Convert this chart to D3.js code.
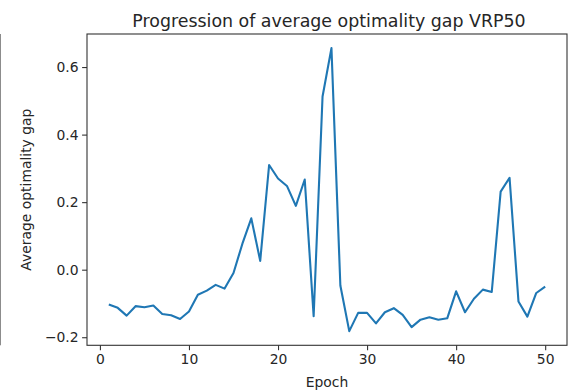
<!DOCTYPE html>
<html>
<head>
<meta charset="utf-8">
<script src="https://cdn.jsdelivr.net/npm/d3@7"></script>
<style>
  body { margin: 0; background: #fff; }
  text { font-family: "DejaVu Sans", sans-serif; fill: #262626; }
</style>
</head>
<body>
<div id="chart"></div>
<script>
  // data
  var epochs = [];
  for (var i = 1; i <= 50; i++) epochs.push(i);

  var gaps = [
    -0.103, -0.113, -0.136, -0.108, -0.111, -0.106, -0.131, -0.135, -0.146, -0.124,
    -0.074, -0.062, -0.045, -0.056, -0.010, 0.077, 0.152, 0.026, 0.310, 0.270,
    0.248, 0.189, 0.267, -0.138, 0.513, 0.656, -0.047, -0.182, -0.128, -0.128,
    -0.159, -0.126, -0.114, -0.134, -0.170, -0.148, -0.141, -0.148, -0.144, -0.064,
    -0.126, -0.086, -0.059, -0.066, 0.231, 0.272, -0.094, -0.139, -0.069, -0.050
  ];

  var xTicks = [0, 10, 20, 30, 40, 50];
  var yTicks = [-0.2, 0.0, 0.2, 0.4, 0.6];

  var titleText = "Progression of average optimality gap VRP50";
  var xLabel = "Epoch";
  var yLabel = "Average optimality gap";

  const width = 570;
  const height = 391;
  var plot = { left: 87, right: 567, top: 34, bottom: 345.3 };

  var svg = d3.select("#chart")
      .append("svg")
      .attr("width", width)
      .attr("height", height);

  /* matplotlib style 5% margins */
  var xMin = d3.min(epochs), xMax = d3.max(epochs);
  var yMin = d3.min(gaps), yMax = d3.max(gaps);
  var xPad = (xMax - xMin) * 0.05, yPad = (yMax - yMin) * 0.05;

  var x = d3.scaleLinear()
      .domain([xMin - xPad, xMax + xPad])
      .range([plot.left, plot.right]);

  var y = d3.scaleLinear()
      .domain([yMin - yPad, yMax + yPad])
      .range([plot.bottom, plot.top]);

  // notebook cell border on the far left
  svg.append("line")
      .attr("x1", 0.5).attr("x2", 0.5)
      .attr("y1", plot.top).attr("y2", plot.bottom)
      .style("stroke", "#8c8c8c")
      .style("stroke-width", 1);

  /* axes */
  var xAxis = svg.append("g")
      .attr("transform", "translate(0," + plot.bottom + ")")
      .call(d3.axisBottom(x).tickValues(xTicks).tickFormat(d3.format("d"))
            .tickSize(4.9).tickPadding(3.5));

  var yAxis = svg.append("g")
      .attr("transform", "translate(" + plot.left + ",0)")
      .call(d3.axisLeft(y).tickValues(yTicks)
            .tickFormat(function(d) { return d3.format(".1f")(d).replace("-", "\u2212"); })
            .tickSize(4.9).tickPadding(3.5));

  [xAxis, yAxis].forEach(function(g) {
    g.select(".domain").remove();
    g.selectAll(".tick line").style("stroke", "#333").style("stroke-width", 1.1);
    g.selectAll(".tick text")
      .style("font-size", "13.9px")
      .style("fill", "#262626");
  });

  /* line */
  var line = d3.line()
      .x(function(d, i) { return x(epochs[i]); })
      .y(function(d) { return y(d); });

  svg.append("path")
      .datum(gaps)
      .attr("d", line)
      .style("fill", "none")
      .style("stroke", "#1f77b4")
      .style("stroke-width", 2.1)
      .style("stroke-linejoin", "round");

  /* frame */
  svg.append("rect")
      .attr("x", plot.left)
      .attr("y", plot.top)
      .attr("width", plot.right - plot.left)
      .attr("height", plot.bottom - plot.top)
      .style("fill", "none")
      .style("stroke", "#333")
      .style("stroke-width", 1.1);

  /* texts */
  svg.append("text")
      .attr("x", (plot.left + plot.right) / 2 + 2)
      .attr("y", 27.3)
      .attr("text-anchor", "middle")
      .style("font-size", "17.4px")
      .text(titleText);

  svg.append("text")
      .attr("x", (plot.left + plot.right) / 2)
      .attr("y", 387)
      .attr("text-anchor", "middle")
      .style("font-size", "13.9px")
      .text(xLabel);

  svg.append("text")
      .attr("transform", "translate(31," + (plot.top + plot.bottom) / 2 + ") rotate(-90)")
      .attr("text-anchor", "middle")
      .style("font-size", "13.9px")
      .text(yLabel);
</script>
</body>
</html>
